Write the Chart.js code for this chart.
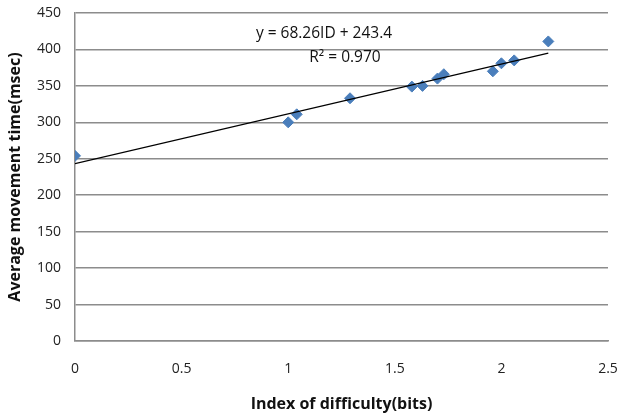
<!DOCTYPE html>
<html>
<head>
<meta charset="utf-8">
<script src="https://cdn.jsdelivr.net/npm/chart.js@4.4.1/dist/chart.umd.min.js"></script>
<style>
  html, body { margin: 0; padding: 0; background: #fff; }
  #wrap { width: 618px; height: 414px; position: relative; }
</style>
</head>
<body>
<div id="wrap"><canvas id="chart"></canvas></div>
<script>
// Index of difficulty (bits) and average movement time (msec)
const idBits = [0, 1.0, 1.04, 1.29, 1.58, 1.63, 1.70, 1.73, 1.96, 2.0, 2.06, 2.22];
const moveTime = [254, 300, 311, 333, 349, 350, 360, 366, 370, 381, 385, 411];

// linear trendline as printed on the chart
const trendSlope = 68.26;
const trendIntercept = 243.4;
const trendRange = [0, 2.22];
const trendText = ['y = 68.26ID + 243.4', 'R\u00b2 = 0.970'];

const xTicks = [0, 0.5, 1, 1.5, 2, 2.5];
const yTicks = [0, 50, 100, 150, 200, 250, 300, 350, 400, 450];

const FONT = '"Open Sans", Lato, sans-serif';
const GRID = '#8c8c8c';

const points = idBits.map((x, i) => ({ x, y: moveTime[i] }));
const trend = trendRange.map(x => ({ x, y: trendSlope * x + trendIntercept }));

// trendline equation text, placed like Excel does near the top of the plot
const equationLabel = {
    id: 'equationLabel',
    afterDatasetsDraw(chart) {
        const { ctx, chartArea } = chart;
        ctx.save();
        ctx.fillStyle = '#111';
        ctx.font = '15.5px ' + FONT;
        ctx.textAlign = 'center';
        ctx.textBaseline = 'middle';
        ctx.fillText(trendText[0], chartArea.left + 249, chartArea.top + 21);
        ctx.fillText(trendText[1], chartArea.left + 270, chartArea.top + 45);
        ctx.restore();
    }
};

new Chart(document.getElementById('chart'), {
    type: 'scatter',
    data: {
        datasets: [
            {
                label: 'Trend',
                type: 'line',
                data: trend,
                borderColor: '#000',
                borderWidth: 1.2,
                pointRadius: 0,
                fill: false
            },
            {
                label: 'Movement time',
                data: points,
                backgroundColor: '#4a7ebb',
                borderColor: '#4a7ebb',
                pointStyle: 'rectRot',
                pointRadius: 5.5,
                pointHoverRadius: 5.5
            }
        ]
    },
    plugins: [equationLabel],
    options: {
        responsive: true,
        maintainAspectRatio: false,
        animation: false,
        layout: { padding: { top: 13, right: 0, left: 0, bottom: 0 } },
        plugins: {
            legend: { display: false },
            tooltip: { enabled: false }
        },
        scales: {
            x: {
                type: 'linear',
                min: 0,
                max: 2.5,
                afterBuildTicks: axis => { axis.ticks = xTicks.map(v => ({ value: v })); },
                afterFit: axis => {
                    axis.height = 73;
                    axis.paddingLeft = 0;
                    axis.paddingRight = 10;
                },
                grid: { display: false, drawTicks: false },
                border: { display: true, color: GRID, width: 1.5 },
                ticks: {
                    padding: 20,
                    color: '#222',
                    font: { family: FONT, size: 14 },
                    callback: v => String(v)
                },
                title: {
                    display: true,
                    text: 'Index of difficulty(bits)',
                    color: '#111',
                    font: { family: FONT, size: 16, weight: 'bold' },
                    padding: { top: 9, bottom: 0 }
                }
            },
            y: {
                min: 0,
                max: 450,
                afterBuildTicks: axis => { axis.ticks = yTicks.map(v => ({ value: v })); },
                afterFit: axis => {
                    axis.width = 75;
                    axis.paddingTop = 0;
                    axis.paddingBottom = 0;
                },
                grid: { color: GRID, lineWidth: 1.5, drawTicks: false },
                border: { display: true, color: GRID, width: 1.5 },
                ticks: {
                    padding: 14,
                    color: '#222',
                    font: { family: FONT, size: 14 }
                },
                title: {
                    display: true,
                    text: 'Average movement time(msec)',
                    color: '#111',
                    font: { family: FONT, size: 16, weight: 'bold' },
                    padding: { top: 6, bottom: 4 }
                }
            }
        }
    }
});
</script>
</body>
</html>
